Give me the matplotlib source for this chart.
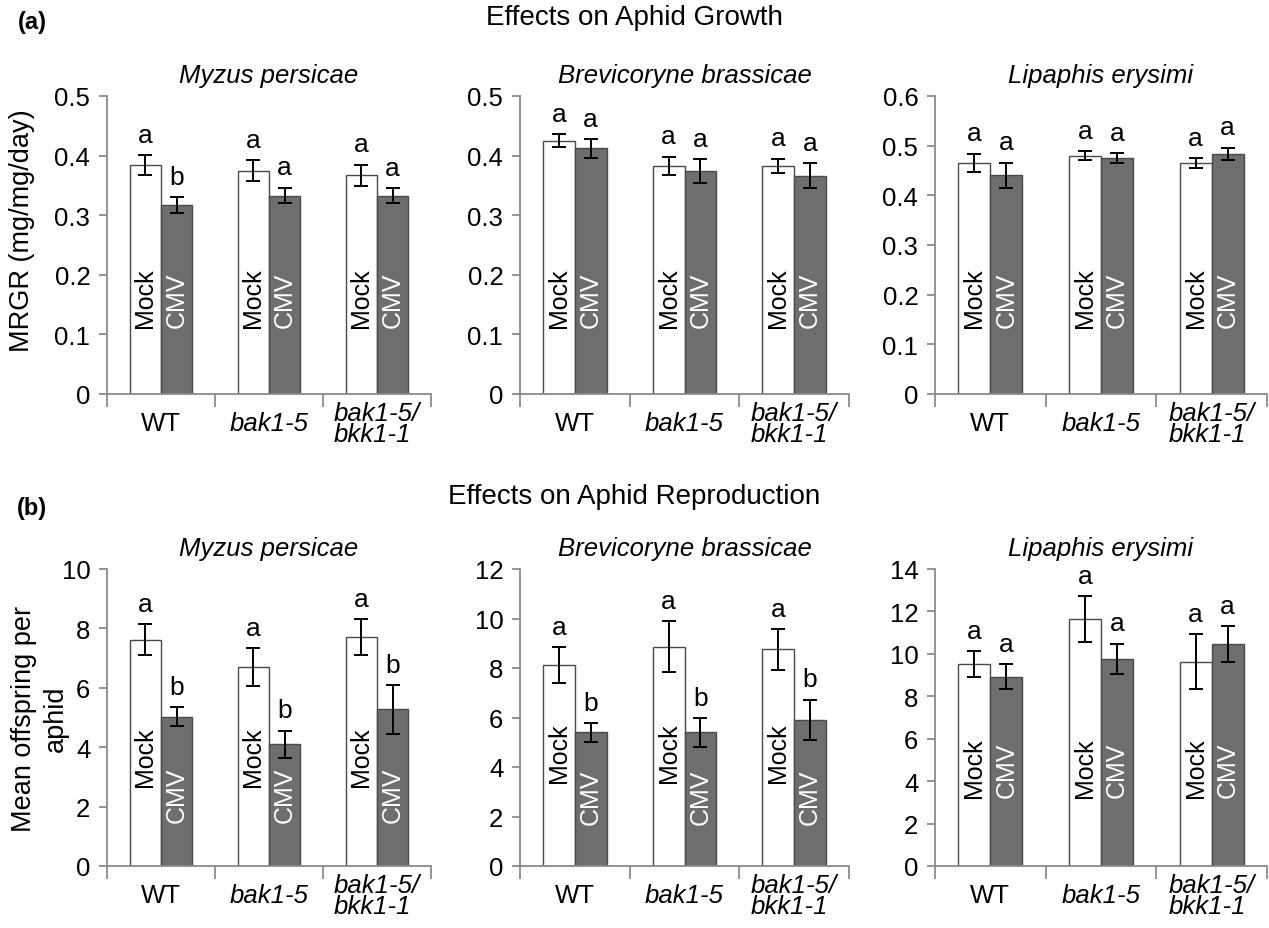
import matplotlib
matplotlib.use("Agg")
import matplotlib.pyplot as plt
import numpy as np

plt.rcParams["font.family"] = ["Liberation Sans", "DejaVu Sans"]

# genotype categories and treatments
genotypes = ["WT", "bak1-5", "bak1-5/\nbkk1-1"]
genotype_italic = [False, True, True]
treatments = ["Mock", "CMV"]

# (a) growth (MRGR, mg/mg/day)
growth_species = ["Myzus persicae", "Brevicoryne brassicae", "Lipaphis erysimi"]
growth_mock = [[0.384, 0.375, 0.367], [0.425, 0.383, 0.383], [0.465, 0.480, 0.465]]
growth_mock_err = [[0.017, 0.017, 0.018], [0.011, 0.015, 0.012], [0.019, 0.009, 0.010]]
growth_cmv = [[0.317, 0.333, 0.333], [0.412, 0.374, 0.366], [0.440, 0.475, 0.484]]
growth_cmv_err = [[0.013, 0.013, 0.012], [0.016, 0.020, 0.021], [0.026, 0.010, 0.012]]
growth_mock_letters = [["a", "a", "a"], ["a", "a", "a"], ["a", "a", "a"]]
growth_cmv_letters = [["b", "a", "a"], ["a", "a", "a"], ["a", "a", "a"]]
growth_ymax = [0.5, 0.5, 0.6]

# (b) reproduction (mean offspring per aphid)
repro_species = ["Myzus persicae", "Brevicoryne brassicae", "Lipaphis erysimi"]
repro_mock = [[7.62, 6.70, 7.72], [8.12, 8.85, 8.75], [9.52, 11.65, 9.63]]
repro_mock_err = [[0.52, 0.63, 0.60], [0.73, 1.03, 0.83], [0.60, 1.08, 1.30]]
repro_cmv = [[5.02, 4.10, 5.27], [5.40, 5.40, 5.90], [8.93, 9.76, 10.46]]
repro_cmv_err = [[0.32, 0.46, 0.82], [0.38, 0.58, 0.82], [0.59, 0.72, 0.83]]
repro_mock_letters = [["a", "a", "a"], ["a", "a", "a"], ["a", "a", "a"]]
repro_cmv_letters = [["b", "b", "b"], ["b", "b", "b"], ["a", "a", "a"]]
repro_ymax = [10, 12, 14]
repro_ystep = [2, 2, 2]

FS = 18.5
SPINE = "#8a8a8a"
CMV_FILL = "#6e6e6e"
EDGE = "#4a4a4a"
BW = 0.29

fig = plt.figure(figsize=(12.69, 9.29), dpi=100)
W, H = 1269.0, 929.0

# axes boxes in pixels (left, right)
cols = [(107, 431), (520, 849), (935, 1267)]
rows = [(97, 395), (570, 867)]


def make_ax(col, row):
    l, r = cols[col]
    t, b = rows[row]
    return fig.add_axes([l / W, 1 - b / H, (r - l) / W, (b - t) / H])


def draw_panel(ax, mock, mock_err, cmv, cmv_err, mock_let, cmv_let,
               ymax, ystep, yfmt, species, mock_y, cmv_y):
    x = np.arange(len(genotypes)) + 0.5
    ax.bar(x - BW / 2, mock, BW, color="white", edgecolor=EDGE, linewidth=1.0, zorder=2)
    ax.bar(x + BW / 2, cmv, BW, color=CMV_FILL, edgecolor=EDGE, linewidth=1.0, zorder=2)
    ax.errorbar(x - BW / 2, mock, yerr=mock_err, fmt="none", ecolor="black",
                elinewidth=1.4, capsize=5, capthick=1.4, zorder=3)
    ax.errorbar(x + BW / 2, cmv, yerr=cmv_err, fmt="none", ecolor="black",
                elinewidth=1.4, capsize=5, capthick=1.4, zorder=3)
    for i in range(len(x)):
        ax.annotate(mock_let[i], (x[i] - BW / 2, mock[i] + mock_err[i]),
                    xytext=(0, 6), textcoords="offset points",
                    ha="center", va="bottom", fontsize=FS + 0.5)
        ax.annotate(cmv_let[i], (x[i] + BW / 2, cmv[i] + cmv_err[i]),
                    xytext=(0, 6), textcoords="offset points",
                    ha="center", va="bottom", fontsize=FS + 0.5)
        ax.text(x[i] - BW / 2, mock_y, treatments[0], rotation=90,
                ha="center", va="bottom", fontsize=FS - 0.5, color="black",
                transform=ax.get_xaxis_transform(), zorder=4)
        ax.text(x[i] + BW / 2, cmv_y, treatments[1], rotation=90,
                ha="center", va="bottom", fontsize=FS - 0.5, color="white",
                transform=ax.get_xaxis_transform(), zorder=4)
        lab = genotypes[i]
        ax.text(x[i], -0.098, lab, ha="center", va="center",
                multialignment="left", linespacing=0.85, fontsize=FS,
                style="italic" if genotype_italic[i] else "normal",
                transform=ax.get_xaxis_transform())

    ax.set_xlim(0, 3)
    ax.set_ylim(0, ymax)
    ticks = np.arange(0, ymax + ystep / 2, ystep)
    ax.set_yticks(ticks)
    ax.set_yticklabels([yfmt(t) for t in ticks])
    ax.set_xticks([0, 1, 2, 3])
    ax.set_xticklabels([])
    for s in ["top", "right"]:
        ax.spines[s].set_visible(False)
    for s in ["left", "bottom"]:
        ax.spines[s].set_color(SPINE)
        ax.spines[s].set_linewidth(1.3)
    ax.tick_params(axis="y", direction="out", length=6, width=1.3,
                   color=SPINE, labelsize=FS, pad=6)
    ax.tick_params(axis="x", direction="out", length=9, width=1.3, color=SPINE)
    ax.set_title(species, style="italic", fontsize=FS, pad=10)


def fmt_growth(t):
    return "0" if t == 0 else f"{t:.1f}"


def fmt_int(t):
    return f"{int(round(t))}"


growth_label_y = [(0.225, 0.225), (0.225, 0.225), (0.225, 0.225)]
repro_label_y = [(0.27, 0.148), (0.283, 0.141), (0.232, 0.232)]

for j in range(3):
    ax = make_ax(j, 0)
    draw_panel(ax, growth_mock[j], growth_mock_err[j], growth_cmv[j], growth_cmv_err[j],
               growth_mock_letters[j], growth_cmv_letters[j], growth_ymax[j], 0.1,
               fmt_growth, growth_species[j], *growth_label_y[j])
    if j == 0:
        ax.set_ylabel("MRGR (mg/mg/day)", fontsize=FS + 1)
        ax.yaxis.set_label_coords(-0.222, 0.55)

for j in range(3):
    ax = make_ax(j, 1)
    draw_panel(ax, repro_mock[j], repro_mock_err[j], repro_cmv[j], repro_cmv_err[j],
               repro_mock_letters[j], repro_cmv_letters[j], repro_ymax[j], repro_ystep[j],
               fmt_int, repro_species[j], *repro_label_y[j])
    if j == 0:
        ax.set_ylabel("Mean offspring per\naphid", fontsize=FS + 1, linespacing=1.3)
        ax.yaxis.set_label_coords(-0.117, 0.5)

fig.text(634 / W, 1 - 18 / H, "Effects on Aphid Growth", ha="center", va="center", fontsize=20)
fig.text(634 / W, 1 - 497 / H, "Effects on Aphid Reproduction", ha="center", va="center", fontsize=20)
fig.text(18 / W, 1 - 23 / H, "(a)", ha="left", va="center", fontsize=17, fontweight="bold")
fig.text(17 / W, 1 - 509 / H, "(b)", ha="left", va="center", fontsize=17, fontweight="bold")

fig.savefig("out.png", dpi=100)
